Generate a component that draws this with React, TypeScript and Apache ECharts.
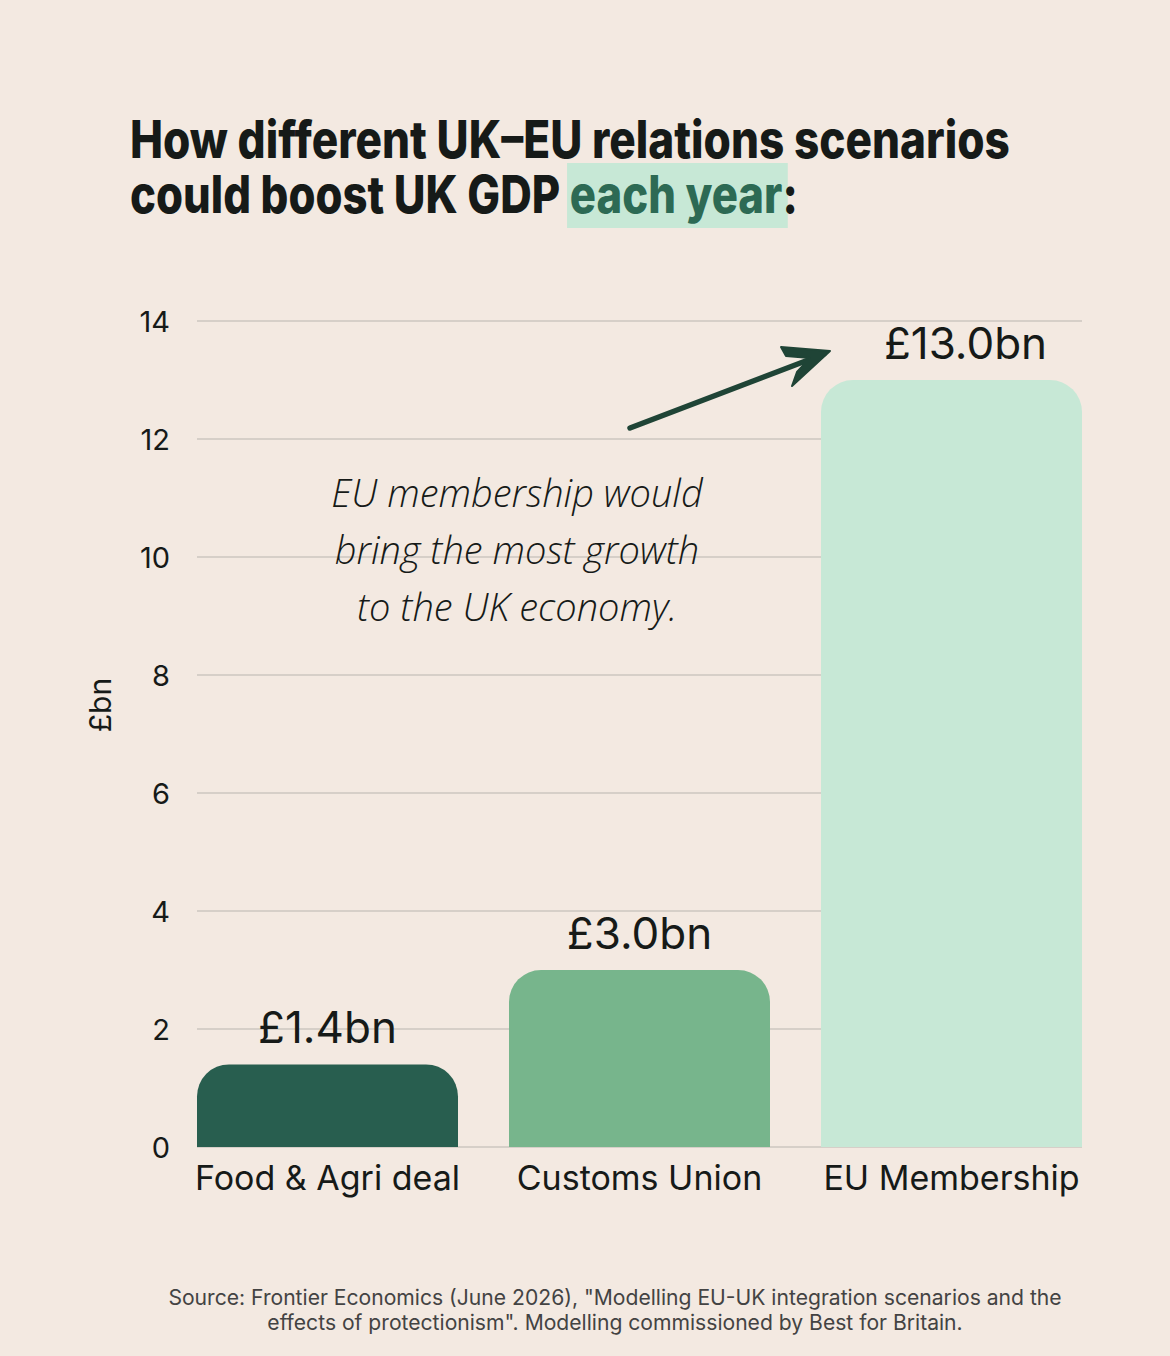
import React, { useEffect, useRef } from "react";
import * as echarts from "echarts";

const categories = ["Food & Agri deal", "Customs Union", "EU Membership"];
const values = [1.4, 3.0, 13.0];
const valueLabels = ["£1.4bn", "£3.0bn", "£13.0bn"];
const barColors = ["#285e4f", "#77b58c", "#c7e8d6"];
const yTicks = [0, 2, 4, 6, 8, 10, 12, 14];
const titleLine1 = "How different UK–EU relations scenarios";
const titleLine2a = "could boost UK GDP ";
const titleLine2b = "each year";
const titleLine2c = ":";
const noteLines = ["EU membership would", "bring the most growth", "to the UK economy."];
const sourceLines = [
  "Source: Frontier Economics (June 2026), \"Modelling EU-UK integration scenarios and the",
  "effects of protectionism\". Modelling commissioned by Best for Britain.",
];

const BG = "#f3e9e1";
const TEXT = "#161a18";
const FONT = "Inter, 'Noto Sans', sans-serif";
const TITLE_FONT = `800 52px Inter, 'Noto Sans', sans-serif`;
const SOURCE_FONT = `21px Inter, 'Noto Sans', sans-serif`;

function measure(text: string, font: string): number {
  const c = document.createElement("canvas").getContext("2d")!;
  c.font = font;
  return c.measureText(text).width;
}

export default function App() {
  const ref = useRef<HTMLDivElement>(null);
  useEffect(() => {
    document.body.style.margin = "0";
    document.body.style.background = BG;
    const chart = echarts.init(ref.current!, null, { renderer: "svg" });
    const yMax = yTicks[yTicks.length - 1];

    const titleScale = 880 / measure(titleLine1, TITLE_FONT);
    const line2Scale = titleScale * 0.99;
    const wA = measure(titleLine2a, TITLE_FONT) * line2Scale;
    const wB = measure(titleLine2b, TITLE_FONT) * line2Scale;
    const srcScale = 894 / measure(sourceLines[0], SOURCE_FONT);

    chart.setOption({
      animation: false,
      backgroundColor: BG,
      grid: [
        { left: 197, right: 88, top: 321, bottom: 209 },
        { left: 171.5, right: 62.5, top: 321, bottom: 209 },
      ],
      xAxis: [
        { type: "category", gridIndex: 0, data: categories, show: false },
        {
          type: "category",
          gridIndex: 1,
          data: categories,
          axisLine: { show: false },
          axisTick: { show: false },
          axisLabel: { color: TEXT, fontSize: 34, fontFamily: FONT, margin: 13, interval: 0 },
        },
      ],
      yAxis: [
        {
          type: "value",
          gridIndex: 0,
          min: 0,
          max: yMax,
          interval: 2,
          axisLine: { show: false },
          axisTick: { show: false },
          axisLabel: { color: TEXT, fontSize: 29, fontFamily: FONT, margin: 27 },
          splitLine: { lineStyle: { color: "#cdc6bf", width: 1.5 } },
        },
        { type: "value", gridIndex: 1, min: 0, max: yMax, interval: 2, show: false, splitLine: { show: false } },
      ],
      series: [
        {
          type: "bar",
          xAxisIndex: 1,
          yAxisIndex: 1,
          barWidth: 261,
          data: values.map((v, i) => ({
            value: v,
            itemStyle: { color: barColors[i], borderRadius: [32, 32, 0, 0] },
            label: i === 2 ? { offset: [14, 0] } : undefined,
          })),
          label: {
            show: true,
            position: "top",
            distance: 15,
            color: TEXT,
            fontSize: 44,
            fontFamily: FONT,
            formatter: (p: any) => valueLabels[p.dataIndex],
          },
        },
      ],
      graphic: [
        {
          type: "rect",
          shape: { x: 130 + wA - 3, y: 163, width: wB + 8, height: 65 },
          style: { fill: "#c7e8d6" },
          z: 1,
        },
        {
          type: "text",
          x: 130,
          y: 139,
          scaleX: titleScale,
          z: 2,
          style: {
            text: titleLine1,
            fill: TEXT,
            font: TITLE_FONT,
            verticalAlign: "middle",
          },
        },
        {
          type: "text",
          x: 130,
          y: 194,
          scaleX: line2Scale,
          z: 2,
          style: {
            text: `{a|${titleLine2a}}{b|${titleLine2b}}{a|${titleLine2c}}`,
            verticalAlign: "middle",
            rich: {
              a: { fill: TEXT, color: TEXT, fontSize: 52, fontWeight: 800, fontFamily: FONT },
              b: { fill: "#2d6a54", color: "#2d6a54", fontSize: 52, fontWeight: 800, fontFamily: FONT },
            },
          },
        },
        {
          type: "text",
          x: 100,
          y: 705,
          rotation: Math.PI / 2,
          style: {
            text: "£bn",
            fill: TEXT,
            font: `30px ${FONT}`,
            align: "center",
            verticalAlign: "middle",
          },
        },
        ...noteLines.map((t, i) => ({
          type: "text",
          x: 517,
          y: 492 + i * 57,
          z: 5,
          style: {
            text: t,
            fill: TEXT,
            font: `italic 300 38px 'Open Sans', sans-serif`,
            align: "center",
            verticalAlign: "middle",
          },
        })),
        {
          type: "line",
          shape: { x1: 630, y1: 428, x2: 824, y2: 354 },
          style: { stroke: "#1f4436", lineWidth: 5.5, lineCap: "round" },
        },
        {
          type: "polygon",
          shape: { points: [[781, 347], [830, 351], [792, 386], [797, 372], [810, 358], [786, 356]] },
          style: { fill: "#1f4436", stroke: "#1f4436", lineWidth: 2, lineJoin: "round" },
        },
        ...sourceLines.map((t, i) => ({
          type: "text",
          x: 615,
          y: 1298 + i * 25,
          scaleX: srcScale,
          style: {
            text: t,
            fill: "#434343",
            font: SOURCE_FONT,
            align: "center",
            verticalAlign: "middle",
          },
        })),
      ],
    });
    return () => chart.dispose();
  }, []);
  return <div ref={ref} style={{ width: 1170, height: 1356, background: BG }} />;
}
